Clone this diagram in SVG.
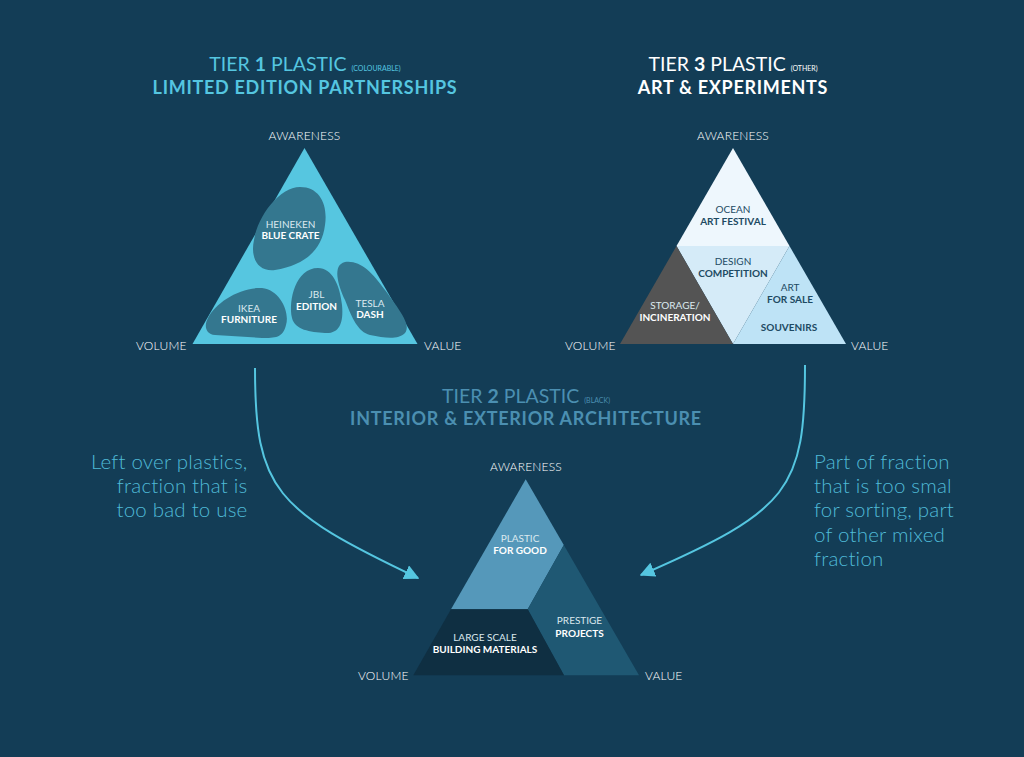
<svg xmlns="http://www.w3.org/2000/svg" width="1024" height="757" viewBox="0 0 1024 757">
<defs>
<style>
text{font-family:Lato,"Open Sans","DejaVu Sans",sans-serif;}
.ax{font-size:12px;font-weight:300;fill:#ffffff;text-anchor:middle;letter-spacing:0.2px;}
.axl{font-size:12px;font-weight:300;fill:#ffffff;letter-spacing:0.2px;}
.t1{font-size:19.5px;fill:#55c6e0;text-anchor:middle;}
.t3{font-size:19.5px;fill:#ffffff;text-anchor:middle;}
.t2{font-size:19.5px;fill:#4b8fb1;text-anchor:middle;}
.h{font-size:18px;font-weight:bold;text-anchor:middle;letter-spacing:0.7px;}
.sm{font-size:7px;}
.lr{font-size:10px;text-anchor:middle;}
.lb{font-size:10px;font-weight:bold;text-anchor:middle;}
.w{fill:#ffffff;}
.wd{fill:#dbe9ef;}
.d{fill:#1d4a63;}
.side{font-size:20.5px;font-weight:300;fill:#4fbad6;letter-spacing:0.2px;}
.blob{fill:#34778f;}
.conn{fill:none;stroke:#55c6e0;stroke-width:2;}
</style>
<marker id="ah" viewBox="0 0 10 10" refX="9" refY="5" markerWidth="7.5" markerHeight="7.5" markerUnits="strokeWidth" orient="auto">
<path d="M0,0 L10,5 L0,10 Z" fill="#55c6e0"/>
</marker>
</defs>
<rect width="1024" height="757" fill="#133d56"/>

<!-- Tier 1 -->
<g id="tier1-title">
<text class="t1" x="305" y="71">TIER <tspan font-weight="bold">1</tspan> PLASTIC <tspan class="sm">(COLOURABLE)</tspan></text>
<text class="h" x="305" y="94" fill="#55c6e0">LIMITED EDITION PARTNERSHIPS</text>
</g>
<g id="tier1-triangle">
<polygon points="304.5,148 192.5,344 417.5,344" fill="#56c6e0"/>
<text class="ax" x="304.5" y="140">AWARENESS</text>
<text class="axl" x="136" y="349.5">VOLUME</text>
<text class="axl" x="424" y="349.5">VALUE</text>
</g>
<g id="heineken">
<path class="blob" d="M300,187 C320,187 328,205 325,225 C322,250 305,265 275,270 C258,272 250,258 254,240 C258,215 280,187 300,187 Z"/>
<text class="lr wd" x="290.5" y="227.5">HEINEKEN</text>
<text class="lb w" x="290.5" y="238.5">BLUE CRATE</text>
</g>
<g id="ikea">
<path class="blob" d="M262,288 C280,290 290,312 286,325 C283,338 275,338 262,338 L215,335 C205,334 204,325 208,318 C215,303 240,287 262,288 Z"/>
<text class="lr wd" x="249" y="311.5">IKEA</text>
<text class="lb w" x="249" y="322.5">FURNITURE</text>
</g>
<g id="jbl">
<path class="blob" d="M318,268 C332,268 340,285 342,305 C344,325 338,334 325,333 C310,332 295,330 292,318 C288,300 296,268 318,268 Z"/>
<text class="lr wd" x="316.5" y="297.5">JBL</text>
<text class="lb w" x="316.5" y="309.5">EDITION</text>
</g>
<g id="tesla">
<path class="blob" d="M345,262 C360,260 372,272 385,290 C398,308 412,325 405,333 C398,340 385,338 370,335 C358,332 352,318 345,300 C338,285 332,265 345,262 Z"/>
<text class="lr wd" x="370" y="306.5">TESLA</text>
<text class="lb w" x="370" y="317.5">DASH</text>
</g>

<!-- Tier 3 -->
<g id="tier3-title">
<text class="t3" x="733" y="71">TIER <tspan font-weight="bold">3</tspan> PLASTIC <tspan class="sm">(OTHER)</tspan></text>
<text class="h" x="733" y="94" fill="#ffffff">ART &amp; EXPERIMENTS</text>
</g>
<g id="tier3-labels">
<text class="ax" x="733" y="140">AWARENESS</text>
<text class="axl" x="565" y="349.5">VOLUME</text>
<text class="axl" x="851" y="349.5">VALUE</text>
</g>
<g id="ocean-art-festival">
<polygon points="733,148 676.5,246 789.5,246" fill="#eef7fd"/>
<text class="lr d" x="733" y="212.5">OCEAN</text>
<text class="lb d" x="733" y="224.5">ART FESTIVAL</text>
</g>
<g id="design-competition">
<polygon points="676.5,246 789.5,246 733,344" fill="#d5ebf8"/>
<text class="lr d" x="733" y="264.5">DESIGN</text>
<text class="lb d" x="733" y="276.5">COMPETITION</text>
</g>
<g id="storage-incineration">
<polygon points="676.5,246 620,344 733,344" fill="#545454"/>
<text class="lr wd" x="675" y="308.5">STORAGE/</text>
<text class="lb w" x="675" y="320.5">INCINERATION</text>
</g>
<g id="art-for-sale">
<polygon points="789.5,246 733,344 846,344" fill="#bee3f6"/>
<text class="lr d" x="790" y="290.5">ART</text>
<text class="lb d" x="790" y="302.5">FOR SALE</text>
<text class="lb d" x="789" y="330.5">SOUVENIRS</text>
</g>

<!-- Tier 2 -->
<g id="tier2-title">
<text class="t2" x="526" y="403">TIER <tspan font-weight="bold">2</tspan> PLASTIC <tspan class="sm">(BLACK)</tspan></text>
<text class="h" x="526" y="424.5" fill="#4b8fb1">INTERIOR &amp; EXTERIOR ARCHITECTURE</text>
</g>
<g id="tier2-labels">
<text class="ax" x="526" y="470.5">AWARENESS</text>
<text class="axl" x="358" y="680">VOLUME</text>
<text class="axl" x="645" y="680">VALUE</text>
</g>
<g id="plastic-for-good">
<polygon points="525.7,479.3 451,609.3 527.7,609.3 563.8,545" fill="#5598ba"/>
<text class="lr wd" x="520" y="541.5">PLASTIC</text>
<text class="lb w" x="520" y="553.5">FOR GOOD</text>
</g>
<g id="prestige-projects">
<polygon points="563.8,545 639,675.3 564,675.3 527.7,609.3" fill="#1f5873"/>
<text class="lr wd" x="579.5" y="624">PRESTIGE</text>
<text class="lb w" x="579.5" y="636.5">PROJECTS</text>
</g>
<g id="building-materials">
<polygon points="451,609.3 527.7,609.3 564,675.3 413.3,675.3" fill="#0f2f42"/>
<text class="lr wd" x="485" y="641">LARGE SCALE</text>
<text class="lb w" x="485" y="652.5">BUILDING MATERIALS</text>
</g>

<!-- side texts -->
<g id="left-note">
<text class="side" text-anchor="end" x="247.5" y="468.5">Left over plastics,</text>
<text class="side" text-anchor="end" x="247.5" y="492.5">fraction that is</text>
<text class="side" text-anchor="end" x="247.5" y="516.5">too bad to use</text>
</g>
<g id="right-note">
<text class="side" x="814" y="468.5">Part of fraction</text>
<text class="side" x="814" y="492.5">that is too smal</text>
<text class="side" x="814" y="517">for sorting, part</text>
<text class="side" x="814" y="541.5">of other mixed</text>
<text class="side" x="814" y="566">fraction</text>
</g>

<g id="connectors">
<path class="conn" marker-end="url(#ah)" d="M255,368 C255,490 275,510 418,578"/>
<path class="conn" marker-end="url(#ah)" d="M805,365 C805,490 790,510 641,575"/>
</g>
</svg>
